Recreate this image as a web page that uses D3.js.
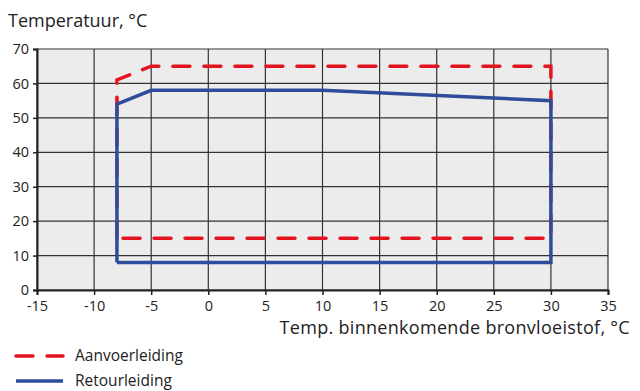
<!DOCTYPE html>
<html><head><meta charset="utf-8">
<script src="https://cdn.jsdelivr.net/npm/d3@7"></script>
<style>body{margin:0;background:#fff}svg{display:block}text{font-family:"Open Sans","Noto Sans",sans-serif;fill:#222}</style>
</head><body><svg id="c" width="640" height="391"></svg>
<script>
const xTicks = [-15,-10,-5,0,5,10,15,20,25,30,35];
const yTicks = [0,10,20,30,40,50,60,70];
const supplyX = [-8,-8,-5,30,30,-8];
const supplyY = [15,61,65,65,15,15];
const returnX = [-8,-8,-5,10,30,30,-8];
const returnY = [8,54,58,58,55,8,8];
const seriesNames = ["Aanvoerleiding","Retourleiding"];
const colors = ["#e2141f","#2f4c9b"];

const svg = d3.select("#c");
const x = d3.scaleLinear().domain([-15,35]).range([37,608]);
const y = d3.scaleLinear().domain([0,70]).range([290,49]);

svg.append("rect").attr("x",x(-15)).attr("y",y(70)).attr("width",x(35)-x(-15)).attr("height",y(0)-y(70)).attr("fill","#ececec");

const g = svg.append("g");
g.selectAll(".vg").data(xTicks).join("line").attr("x1",d=>x(d)).attr("x2",d=>x(d)).attr("y1",y(0)).attr("y2",y(70)).attr("stroke","#333").attr("stroke-width",1.2);
g.selectAll(".hg").data(yTicks).join("line").attr("x1",x(-15)).attr("x2",x(35)).attr("y1",d=>y(d)).attr("y2",d=>y(d)).attr("stroke","#333").attr("stroke-width",1.2);

const fmt = d => String(d);
const xa = svg.append("g").attr("transform",`translate(0,${y(0)})`).call(d3.axisBottom(x).tickValues(xTicks).tickSize(5).tickPadding(3).tickFormat(fmt));
const ya = svg.append("g").attr("transform",`translate(${x(-15)},0)`).call(d3.axisLeft(y).tickValues(yTicks).tickSize(4).tickPadding(4).tickFormat(fmt));
[xa,ya].forEach(a=>{a.select(".domain").attr("stroke","#222").attr("stroke-width",2);a.selectAll(".tick line").attr("stroke","#222").attr("stroke-width",1.5);a.selectAll("text").attr("font-size",14.5).attr("font-family","'Open Sans','Noto Sans',sans-serif").attr("fill","#222");});
xa.selectAll("text").attr("dy","0.9em");

const line = d3.line().x(d=>x(d[0])).y(d=>y(d[1]));
const sup = supplyX.map((v,i)=>[v,supplyY[i]]);
const ret = returnX.map((v,i)=>[v,returnY[i]]);
svg.append("path").attr("d",line(sup)).attr("fill","none").attr("stroke",colors[0]).attr("stroke-width",3.5).attr("stroke-dasharray","17,14").attr("stroke-linecap","round");
svg.append("path").attr("d",line(ret)).attr("fill","none").attr("stroke",colors[1]).attr("stroke-width",3.5).attr("stroke-linejoin","miter");

svg.append("text").attr("x",8).attr("y",27).attr("font-size",18).text("Temperatuur, °C");
svg.append("text").attr("x",630).attr("y",334).attr("text-anchor","end").attr("font-size",18).attr("letter-spacing",0.3).text("Temp. binnenkomende bronvloeistof, °C");

const lg = svg.append("g");
[0,1].forEach(i=>{
  const yy = 356 + i*25;
  lg.append("line").attr("x1",16).attr("x2",63).attr("y1",yy).attr("y2",yy).attr("stroke",colors[i]).attr("stroke-width",3.5)
    .attr("stroke-dasharray",i===0?"17,14":null).attr("stroke-linecap",i===0?"round":"butt");
  lg.append("text").attr("x",75).attr("y",yy+5).attr("font-size",15.5).text(seriesNames[i]);
});
</script></body></html>
